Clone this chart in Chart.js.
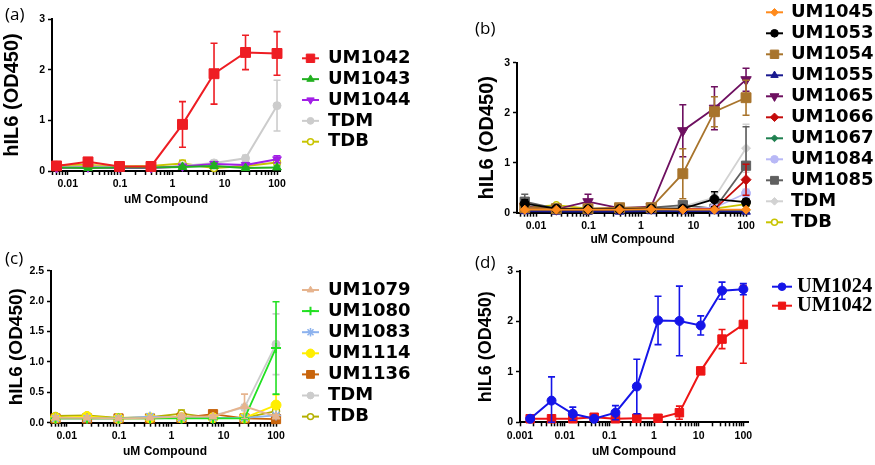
<!DOCTYPE html>
<html>
<head>
<meta charset="UTF-8">
<title>hIL6 dose response</title>
<script src="https://cdn.jsdelivr.net/npm/chart.js"></script>
<style>
  body { margin: 0; background: #fff; width: 875px; height: 465px; position: relative; overflow: hidden; }
  canvas { position: absolute; }
  .tag { position: absolute; font: 17px 'Open Sans', sans-serif; line-height: 1; color: #000; }
</style>
</head>
<body>
<canvas id="ca" width="437" height="215" style="left:0;top:0"></canvas>
<canvas id="cb" width="438" height="250" style="left:437px;top:0"></canvas>
<canvas id="cc" width="437" height="230" style="left:0;top:235px"></canvas>
<canvas id="cd" width="438" height="230" style="left:437px;top:235px"></canvas>
<span class="tag" style="left:5px;top:5px">(a)</span>
<span class="tag" style="left:475px;top:19px">(b)</span>
<span class="tag" style="left:5px;top:249px">(c)</span>
<span class="tag" style="left:475px;top:253px">(d)</span>
<script>
// ---- data ----
// 4-fold dilution series used in panels a-c
const dose4 = [0.0061, 0.0244, 0.0977, 0.39, 1.56, 6.25, 25, 100];
// 3-fold dilution series used in panel d
const dose3 = [0.00169, 0.00508, 0.0152, 0.0457, 0.137, 0.412, 1.23, 3.70, 11.1, 33.3, 100];

// panel a
const aUM1042 = [0.10, 0.18, 0.09, 0.09, 0.92, 1.92, 2.34, 2.32];
const aUM1042e = [0.03, 0.07, 0.02, 0.02, 0.45, 0.60, 0.34, 0.43];
const aUM1043 = [0.07, 0.06, 0.07, 0.07, 0.08, 0.10, 0.06, 0.07];
const aUM1043e = [0.01, 0.01, 0.01, 0.01, 0.02, 0.05, 0.02, 0.03];
const aUM1044 = [0.06, 0.07, 0.06, 0.06, 0.09, 0.14, 0.12, 0.23];
const aUM1044e = [0.01, 0.01, 0.01, 0.01, 0.03, 0.04, 0.03, 0.07];
const aTDM = [0.08, 0.09, 0.08, 0.07, 0.10, 0.16, 0.25, 1.29];
const aTDMe = [0.01, 0.02, 0.01, 0.01, 0.03, 0.05, 0.06, 0.50];
const aTDB = [0.12, 0.12, 0.09, 0.10, 0.15, 0.06, 0.10, 0.17];
const aTDBe = [0.02, 0.03, 0.02, 0.02, 0.06, 0.03, 0.03, 0.04];

// panel b
const bUM1045 = [0.06, 0.06, 0.06, 0.06, 0.07, 0.06, 0.06, 0.06];
const bUM1053 = [0.18, 0.08, 0.07, 0.07, 0.08, 0.08, 0.27, 0.21];
const bUM1053e = [0.08, 0.01, 0.01, 0.01, 0.02, 0.02, 0.15, 0.07];
const bUM1054 = [0.10, 0.08, 0.08, 0.10, 0.10, 0.78, 2.02, 2.30];
const bUM1054e = [0.02, 0.01, 0.01, 0.02, 0.02, 0.50, 0.30, 0.35];
const bUM1055 = [0.03, 0.02, 0.02, 0.02, 0.03, 0.03, 0.03, 0.02];
const bUM1065 = [0.12, 0.07, 0.22, 0.09, 0.12, 1.64, 2.09, 2.66];
const bUM1065e = [0.03, 0.01, 0.15, 0.02, 0.04, 0.52, 0.43, 0.23];
const bUM1066 = [0.07, 0.06, 0.06, 0.06, 0.07, 0.07, 0.07, 0.66];
const bUM1066e = [0.01, 0.01, 0.01, 0.01, 0.01, 0.01, 0.01, 0.31];
const bUM1067 = [0.05, 0.05, 0.05, 0.05, 0.05, 0.05, 0.05, 0.05];
const bUM1084 = [0.06, 0.06, 0.06, 0.06, 0.07, 0.07, 0.10, 0.39];
const bUM1084e = [0.01, 0.01, 0.01, 0.01, 0.01, 0.01, 0.02, 0.08];
const bUM1085 = [0.22, 0.08, 0.07, 0.08, 0.10, 0.15, 0.08, 0.94];
const bUM1085e = [0.15, 0.02, 0.01, 0.02, 0.02, 0.06, 0.02, 0.78];
const bTDM = [0.10, 0.08, 0.07, 0.07, 0.08, 0.12, 0.30, 1.29];
const bTDMe = [0.03, 0.01, 0.01, 0.01, 0.02, 0.05, 0.08, 0.48];
const bTDB = [0.10, 0.15, 0.08, 0.08, 0.09, 0.08, 0.08, 0.17];
const bTDBe = [0.02, 0.03, 0.01, 0.01, 0.02, 0.01, 0.01, 0.03];

// panel c
const cUM1079 = [0.08, 0.08, 0.07, 0.08, 0.10, 0.10, 0.27, 0.10];
const cUM1079e = [0.02, 0.01, 0.01, 0.01, 0.04, 0.03, 0.20, 0.03];
const cUM1080 = [0.07, 0.07, 0.07, 0.07, 0.07, 0.07, 0.07, 1.23];
const cUM1080e = [0.01, 0.01, 0.01, 0.01, 0.01, 0.01, 0.01, 0.76];
const cUM1083 = [0.07, 0.07, 0.07, 0.10, 0.08, 0.08, 0.08, 0.12];
const cUM1114 = [0.08, 0.10, 0.07, 0.08, 0.08, 0.08, 0.08, 0.29];
const cUM1114e = [0.01, 0.02, 0.01, 0.01, 0.01, 0.01, 0.01, 0.17];
const cUM1136 = [0.07, 0.07, 0.07, 0.07, 0.08, 0.14, 0.07, 0.06];
const cTDM = [0.08, 0.08, 0.08, 0.08, 0.09, 0.12, 0.25, 1.29];
const cTDMe = [0.01, 0.01, 0.01, 0.01, 0.02, 0.03, 0.05, 0.50];
const cTDB = [0.11, 0.12, 0.08, 0.09, 0.15, 0.08, 0.08, 0.19];
const cTDBe = [0.02, 0.03, 0.02, 0.02, 0.06, 0.02, 0.02, 0.04];

// panel d
const dUM1024 = [0.07, 0.43, 0.17, 0.07, 0.19, 0.71, 2.02, 2.01, 1.92, 2.61, 2.64];
const dUM1024e = [0.02, 0.47, 0.13, 0.02, 0.14, 0.54, 0.48, 0.69, 0.19, 0.17, 0.11];
const dUM1042 = [0.07, 0.07, 0.07, 0.10, 0.07, 0.08, 0.08, 0.19, 1.02, 1.65, 1.94];
const dUM1042e = [0.01, 0.01, 0.01, 0.02, 0.01, 0.02, 0.02, 0.13, 0.03, 0.19, 0.77];

// ---- helpers ----
const pts = (xs, ys) => xs.map((v, i) => ({ x: v, y: ys[i] }));

function series(label, xs, ys, err, color, style, radius, extra) {
  return Object.assign({
    label, data: pts(xs, ys), err,
    borderColor: color, backgroundColor: color,
    pointBackgroundColor: color, pointBorderColor: color,
    pointStyle: style, pointRadius: radius, pointBorderWidth: 1,
    borderWidth: 2, tension: 0, clip: false
  }, extra || {});
}

function logTicks(min, max) {
  const out = [];
  for (let e = Math.floor(Math.log10(min)); e <= Math.ceil(Math.log10(max)); e++) {
    for (let s = 1; s < 10; s++) {
      const v = Number((s * Math.pow(10, e)).toPrecision(3));
      if (v >= min && v <= max) out.push(v);
    }
  }
  return out;
}
const isDecade = v => Math.abs(Math.log10(v) - Math.round(Math.log10(v))) < 1e-6;

// vertical error bars drawn right before each dataset
const errorBars = {
  id: 'errorBars',
  beforeDatasetDraw(chart, args) {
    const ds = chart.data.datasets[args.index];
    if (!ds.err) return;
    const { ctx, scales: { x, y } } = chart;
    ctx.save();
    ctx.strokeStyle = ds.borderColor;
    ctx.lineWidth = 1.6;
    ds.data.forEach((p, i) => {
      const e = ds.err[i];
      if (!e) return;
      const px = x.getPixelForValue(p.x);
      const top = y.getPixelForValue(p.y + e);
      const bot = y.getPixelForValue(Math.max(0, p.y - e));
      ctx.beginPath();
      ctx.moveTo(px, top); ctx.lineTo(px, bot);
      ctx.moveTo(px - 3.5, top); ctx.lineTo(px + 3.5, top);
      ctx.moveTo(px - 3.5, bot); ctx.lineTo(px + 3.5, bot);
      ctx.stroke();
    });
    ctx.restore();
  }
};

// legend on the right: short line with the marker, then the name
const sideLegend = {
  id: 'sideLegend',
  afterDraw(chart, args, o) {
    const ctx = chart.ctx;
    ctx.save();
    ctx.font = o.font;
    ctx.textBaseline = 'middle';
    chart.data.datasets.forEach((ds, i) => {
      const y = o.y + i * o.step;
      ctx.strokeStyle = ds.borderColor;
      ctx.lineWidth = 2;
      ctx.beginPath();
      ctx.moveTo(o.x, y); ctx.lineTo(o.x + o.len, y);
      ctx.stroke();
      ctx.fillStyle = ds.pointBackgroundColor;
      ctx.strokeStyle = ds.pointBorderColor;
      ctx.lineWidth = ds.pointBorderWidth;
      const opt = { pointStyle: ds.pointStyle, rotation: ds.pointRotation || 0, radius: ds.pointRadius * 0.85, borderWidth: ds.pointBorderWidth };
      if (Chart.helpers && Chart.helpers.drawPoint) {
        Chart.helpers.drawPoint(ctx, opt, o.x + o.len / 2, y);
      } else {
        ctx.beginPath(); ctx.arc(o.x + o.len / 2, y, opt.radius, 0, Math.PI * 2); ctx.fill();
      }
      ctx.fillStyle = '#000';
      ctx.fillText(ds.label, o.x + o.len + o.gap, y + (o.dy || 0));
    });
    ctx.restore();
  }
};

const zeroPad = s => { s.paddingLeft = 0; s.paddingRight = 0; s.paddingTop = 0; s.paddingBottom = 0; };
const tickFont = { family: 'Liberation Sans', weight: 'bold', size: 10.5 };

function panel(id, datasets, p) {
  return new Chart(document.getElementById(id), {
    type: 'line',
    data: { datasets },
    plugins: [errorBars, sideLegend],
    options: {
      responsive: false,
      animation: false,
      layout: { padding: p.pad },
      plugins: {
        legend: { display: false },
        tooltip: { enabled: false },
        sideLegend: p.legend
      },
      scales: {
        x: {
          type: 'logarithmic', min: p.xMin, max: p.xMax,
          afterBuildTicks: s => { s.ticks = logTicks(p.xMin, p.xMax).map(v => ({ value: v })); },
          afterFit: s => { s.height = p.xH; zeroPad(s); },
          border: { color: '#000', width: 2 },
          grid: { drawOnChartArea: false, tickLength: 4, tickColor: '#000', tickWidth: 1.5 },
          ticks: {
            autoSkip: false, maxRotation: 0, padding: p.xTickPad, color: '#000', font: tickFont,
            callback: v => isDecade(v) ? String(Number(v.toPrecision(1))) : ''
          },
          title: {
            display: true, text: 'uM Compound', color: '#000',
            font: { family: 'Liberation Sans', weight: 'bold', size: 12 },
            padding: { top: 0, bottom: p.xTitlePad }
          }
        },
        y: {
          min: 0, max: p.yMax,
          afterFit: s => { s.width = p.yW; zeroPad(s); },
          border: { color: '#000', width: 2 },
          grid: { drawOnChartArea: false, tickLength: 4, tickColor: '#000', tickWidth: 1.5 },
          ticks: {
            stepSize: p.yStep, padding: 3, color: '#000', font: tickFont,
            callback: p.yFmt
          },
          title: {
            display: true, text: 'hIL6 (OD450)', color: '#000',
            font: { family: 'Liberation Sans', weight: 'bold', size: p.yTitleSize },
            padding: { top: p.yTitlePad, bottom: 0 }
          }
        }
      }
    }
  });
}

const legendFont = "bold 18px 'DejaVu Sans'";
const TDBstyle = { pointBackgroundColor: '#fff', pointBorderWidth: 1.5 };

panel('ca', [
  series('UM1042', dose4, aUM1042, aUM1042e, '#EE1D23', 'rect', 7),
  series('UM1043', dose4, aUM1043, aUM1043e, '#22B020', 'triangle', 5),
  series('UM1044', dose4, aUM1044, aUM1044e, '#A21FE6', 'triangle', 5, { pointRotation: 180 }),
  series('TDM', dose4, aTDM, aTDMe, '#CCCCCC', 'circle', 4),
  series('TDB', dose4, aTDB, aTDBe, '#C8C400', 'circle', 3.5, TDBstyle)
], {
  pad: { left: 0, top: 19, right: 157, bottom: 0 }, yW: 52, xH: 44,
  xMin: 0.005, xMax: 114, yMax: 3, yStep: 1, yFmt: v => String(v),
  xTickPad: 3, xTitlePad: 8, yTitleSize: 20, yTitlePad: 0,
  legend: { x: 302, y: 58.3, step: 20.85, len: 17, gap: 9, font: legendFont }
});

panel('cb', [
  series('UM1045', dose4, bUM1045, null, '#FF8A1C', 'rectRot', 4.5),
  series('UM1053', dose4, bUM1053, bUM1053e, '#000000', 'circle', 4.5),
  series('UM1054', dose4, bUM1054, bUM1054e, '#A8742C', 'rect', 7),
  series('UM1055', dose4, bUM1055, null, '#1A1A90', 'triangle', 5),
  series('UM1065', dose4, bUM1065, bUM1065e, '#6E1060', 'triangle', 6, { pointRotation: 180 }),
  series('UM1066', dose4, bUM1066, bUM1066e, '#C40C0C', 'rectRot', 5),
  series('UM1067', dose4, bUM1067, null, '#1F8050', 'rectRot', 4),
  series('UM1084', dose4, bUM1084, bUM1084e, '#B8B8F6', 'circle', 4.5),
  series('UM1085', dose4, bUM1085, bUM1085e, '#606060', 'rect', 6.5),
  series('TDM', dose4, bTDM, bTDMe, '#D2D2D2', 'rectRot', 4.5),
  series('TDB', dose4, bTDB, bTDBe, '#C8C400', 'circle', 3.5, TDBstyle)
].map(d => Object.assign(d, { borderWidth: 1.8 })), {
  pad: { left: 38, top: 62.7, right: 127, bottom: 0 }, yW: 42, xH: 37.3,
  xMin: 0.00434, xMax: 109, yMax: 3, yStep: 1, yFmt: v => String(v),
  xTickPad: 3, xTitlePad: 3, yTitleSize: 20, yTitlePad: 0,
  legend: { x: 329, y: 12.3, step: 21, len: 17, gap: 8, font: legendFont }
});

panel('cc', [
  series('UM1079', dose4, cUM1079, cUM1079e, '#E6B48E', 'triangle', 4.5),
  series('UM1080', dose4, cUM1080, cUM1080e, '#22E022', 'cross', 5, { pointBorderWidth: 2 }),
  series('UM1083', dose4, cUM1083, null, '#8CB2EE', 'star', 5, { pointBorderWidth: 1.5 }),
  series('UM1114', dose4, cUM1114, cUM1114e, '#FFEE00', 'circle', 5),
  series('UM1136', dose4, cUM1136, null, '#C8640C', 'rect', 6.5),
  series('TDM', dose4, cTDM, cTDMe, '#CCCCCC', 'circle', 4),
  series('TDB', dose4, cTDB, cTDBe, '#B4B000', 'circle', 3.5, TDBstyle)
].map(d => Object.assign(d, { borderWidth: 1.8 })), {
  pad: { left: 0, top: 35.7, right: 158, bottom: 0 }, yW: 51, xH: 42.3,
  xMin: 0.005, xMax: 114, yMax: 2.5, yStep: 0.5, yFmt: v => v.toFixed(1),
  xTickPad: 3, xTitlePad: 6, yTitleSize: 19, yTitlePad: 5,
  legend: { x: 302, y: 55, step: 21.1, len: 17, gap: 9, font: legendFont }
});

panel('cd', [
  series('UM1024', dose3, dUM1024, dUM1024e, '#1515E8', 'circle', 4.5),
  series('UM1042', dose3, dUM1042, dUM1042e, '#EE1515', 'rect', 6)
], {
  pad: { left: 38.7, top: 36, right: 127, bottom: 0 }, yW: 44.3, xH: 42.7,
  xMin: 0.001, xMax: 127, yMax: 3, yStep: 1, yFmt: v => String(v),
  xTickPad: 4, xTitlePad: 6, yTitleSize: 18, yTitlePad: 0,
  legend: { x: 335, y: 51.7, step: 19, len: 20, gap: 5, font: "bold 20.5px 'Liberation Serif'" }
});
</script>
</body>
</html>
